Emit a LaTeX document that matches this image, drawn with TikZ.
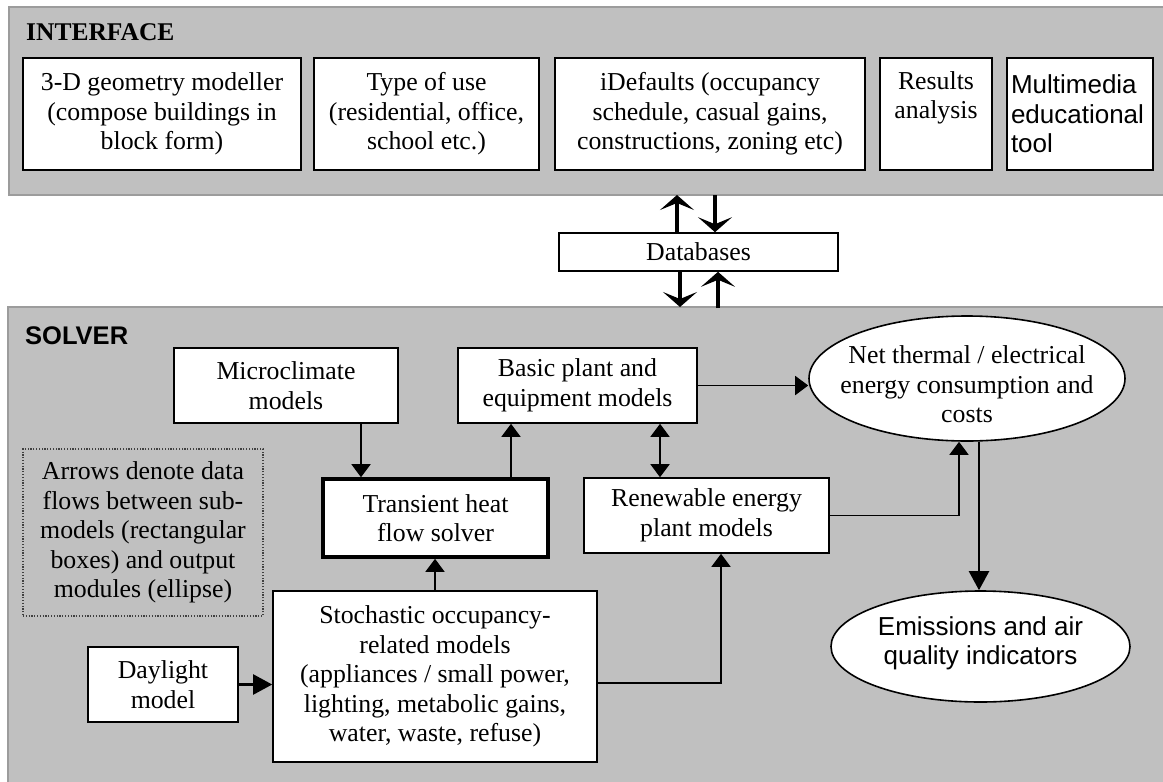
\documentclass[tikz,border=0pt]{standalone}
\usepackage{fontspec}
\setmainfont{Liberation Serif}
\newfontfamily\arialfont{Liberation Sans}
\usetikzlibrary{arrows.meta,shapes.geometric}
\definecolor{panelgray}{HTML}{C0C0C0}
\definecolor{panelborder}{HTML}{9C9C9C}
\definecolor{notegray}{HTML}{404040}
\begin{document}
\begin{tikzpicture}[x=1pt,y=-1pt,
  txt/.style={font=\fontsize{25.8}{29.5}\selectfont, align=center},
  sanstxt/.style={font=\arialfont\fontsize{26}{29.5}\selectfont},
  panel/.style={draw=panelborder, fill=panelgray, line width=2pt},
  box/.style={draw=black, fill=white, line width=1.6pt, rectangle, inner sep=0pt, txt},
  thickbox/.style={box, line width=3.6pt},
  notebox/.style={draw=notegray, line width=1.2pt, dash pattern=on 1.2pt off 1.6pt, rectangle, inner sep=0pt, txt},
  oval/.style={draw=black, fill=white, line width=1.6pt, ellipse, inner sep=0pt},
  arr/.style={draw=black, line width=1.8pt, -{Triangle[length=13pt,width=19pt]}},
  arrbig/.style={draw=black, line width=2.2pt, -{Triangle[length=19pt,width=20pt]}},
  darr/.style={draw=black, line width=1.8pt, {Triangle[length=13pt,width=19pt]}-{Triangle[length=13pt,width=19pt]}},
  dbarrow/.style={draw=black, line width=4.5pt, -{Stealth[length=15pt,width=34pt,inset=7pt]}}
]
\useasboundingbox (0,0) rectangle (1163,782);
% panels
\draw[panel] (9,7) rectangle (1168,195);
\draw[panel] (8,307) rectangle (1168,790);
\node[anchor=base west, inner sep=0pt, font=\bfseries\fontsize{25.5}{29.5}\selectfont] (ititle) at (26,40) {INTERFACE};
\node[anchor=base west, inner sep=0pt, font=\arialfont\bfseries\fontsize{25.5}{29.5}\selectfont] (stitle) at (25,344) {SOLVER};

% interface boxes
\node[box, minimum width=278pt, minimum height=112pt] (geo) at (162,114) {3-D geometry modeller\\(compose buildings in\\block form)};
\node[box, minimum width=225pt, minimum height=112pt] (use) at (426.5,114) {Type of use\\(residential, office,\\school etc.)};
\node[box, minimum width=310pt, minimum height=112pt] (idef) at (710,114) {iDefaults (occupancy\\schedule, casual gains,\\constructions, zoning etc)};
\node[box, minimum width=112pt, minimum height=112pt] (res) at (936,114) {Results\\analysis\\\strut};
\node[box, minimum width=146pt, minimum height=112pt, sanstxt, align=left, text width=138pt] (mm) at (1080,114) {Multimedia\\educational\\tool};

% databases
\node[box, minimum width=279pt, minimum height=38pt] (db) at (698.5,252) {Databases};
\coordinate (ifA) at (677,195);
\coordinate (ifB) at (715,195);
\coordinate (svA) at (680,307);
\coordinate (svB) at (718,308);
\draw[dbarrow] (ifA |- db.north) -- (ifA);
\draw[dbarrow] (ifB) -- (ifB |- db.north);
\draw[dbarrow] (svA |- db.south) -- (svA);
\draw[dbarrow] (svB) -- (svB |- db.south);

% solver nodes
\node[box, minimum width=224pt, minimum height=75pt] (micro) at (286,385.5) {Microclimate\\models};
\node[box, minimum width=239pt, minimum height=75pt] (basic) at (577.5,385.5) {Basic plant and\\equipment models};
\node[oval, minimum width=316pt, minimum height=125pt] (net) at (967,378.5) {};
\node[txt, inner sep=0pt] (nettxt) at ([yshift=-6pt]net.center) {Net thermal / electrical\\energy consumption and\\costs};
\node[thickbox, minimum width=225pt, minimum height=78pt] (trans) at (435.5,518) {Transient heat\\flow solver};
\node[box, minimum width=245pt, minimum height=75pt] (renew) at (706.5,515.5) {Renewable energy\\plant models};
\node[notebox, minimum width=240pt, minimum height=167pt] (note) at (143,532.5) {Arrows denote data\\flows between sub-\\models (rectangular\\boxes) and output\\modules (ellipse)};
\node[box, minimum width=150pt, minimum height=75pt] (day) at (163,684.5) {Daylight\\model};
\node[box, minimum width=324pt, minimum height=171pt] (stoch) at (435,676.5) {Stochastic occupancy-\\related models\\(appliances / small power,\\lighting, metabolic gains,\\water, waste, refuse)};
\node[oval, minimum width=299pt, minimum height=111pt] (emis) at (980.5,646.5) {};
\node[sanstxt, align=center, inner sep=0pt] (emistxt) at ([yshift=3pt]emis.center) {Emissions and air\\quality indicators};

% connectors
\draw[arr] ([xshift=75pt]micro.south) -- ([xshift=75pt]micro.south |- trans.north);
\draw[arr] ([xshift=75.5pt]trans.north) -- ([xshift=75.5pt]trans.north |- basic.south);
\draw[arr] (stoch.north) -- (stoch.north |- trans.south);
\draw[arrbig] (day.east) -- (day.east -| stoch.west);
\draw[arr] ([yshift=-6.5pt]stoch.east) -| ([xshift=14.5pt]renew.south);
\draw[arr] (basic.east) -- (basic.east -| net.west);
\draw[darr] ([xshift=82.5pt]basic.south) -- ([xshift=82.5pt]basic.south |- renew.north);
\draw[arr] (renew.east) -| ([xshift=-8pt]net.south);
\draw[arrbig] ([xshift=12pt]net.south) -- ([xshift=12pt]net.south |- emis.north);
\end{tikzpicture}
\end{document}
